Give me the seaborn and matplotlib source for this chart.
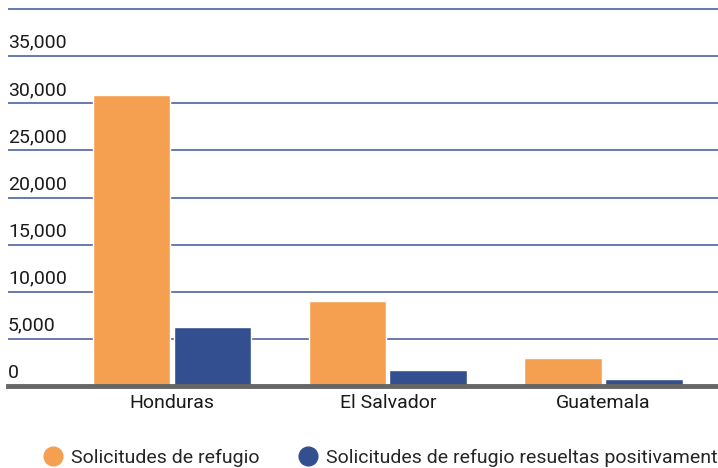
import matplotlib
matplotlib.use("Agg")
import matplotlib.pyplot as plt
import matplotlib.transforms as mtransforms
from matplotlib.lines import Line2D
import seaborn as sns
import pandas as pd

# Datos
paises = ["Honduras", "El Salvador", "Guatemala"]
series = ["Solicitudes de refugio", "Solicitudes de refugio resueltas positivament"]
solicitudes = [30900, 9000, 3000]
resueltas = [6300, 1700, 750]
y_ticks = [0, 5000, 10000, 15000, 20000, 25000, 30000, 35000, 40000]
y_labels = ["0", "5,000", "10,000", "15,000", "20,000", "25,000", "30,000", "35,000", ""]

colores = ["#F4A050", "#344F8F"]

df = pd.DataFrame({
    "pais": paises * 2,
    "serie": [series[0]] * 3 + [series[1]] * 3,
    "valor": solicitudes + resueltas,
})

sns.set_style("white")
plt.rcParams["font.family"] = ["Roboto", "DejaVu Sans"]

W, H = 718, 468
fig = plt.figure(figsize=(W / 100, H / 100), dpi=100)
top_px = 9 - 300 * 377 / 40000
ax = fig.add_axes([8 / W, (H - 386) / H, 1 - 8 / W, (386 - top_px) / H])

sns.barplot(data=df, x="pais", y="valor", hue="serie", palette=colores,
            width=0.75, gap=0.04, saturation=1, legend=False, ax=ax)

ax.set_ylim(0, 40300)
ax.set_xlim(-0.76, 2.53)
ax.set_yticks(y_ticks)
ax.set_yticklabels([])
ax.tick_params(axis="y", length=0)
ax.yaxis.grid(True, color="#5C70A8", linewidth=1.3)
ax.set_axisbelow(True)
ax.set_xlabel("")
ax.set_ylabel("")
ax.tick_params(axis="x", length=0, pad=6, labelsize=14, labelcolor="#1a1a1a")
for s in ["top", "left", "right"]:
    ax.spines[s].set_visible(False)
ax.spines["bottom"].set_color("#666666")
ax.spines["bottom"].set_linewidth(3.5)
ax.spines["bottom"].set_zorder(5)

# etiquetas del eje y encima de las lineas
trans = mtransforms.blended_transform_factory(ax.transAxes, ax.transData)
trans = mtransforms.offset_copy(trans, fig=fig, x=0, y=6, units="points")
for v, lab in zip(y_ticks, y_labels):
    ax.text(0, v, lab, transform=trans, ha="left", va="baseline",
            fontsize=14, color="#1a1a1a")

# Leyenda
handles = [Line2D([], [], marker="o", linestyle="", markersize=13.5,
                  markerfacecolor=c, markeredgecolor=c) for c in colores]
fig.legend(handles, series, loc="center left", bbox_to_anchor=(41 / W, 1 - 458 / H),
           ncol=2, frameon=False, handletextpad=0.34, columnspacing=1.9,
           borderpad=0, handlelength=1.2, borderaxespad=0,
           prop={"size": 14})

fig.savefig("out.png", dpi=100)
